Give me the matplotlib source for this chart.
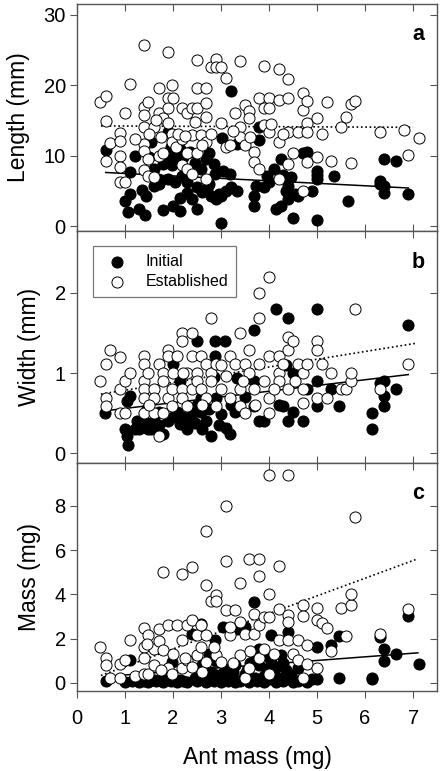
import numpy as np
import matplotlib
matplotlib.use("Agg")
import matplotlib.pyplot as plt

plt.rcParams['font.family'] = ['Liberation Sans', 'DejaVu Sans']

# ---- panel a : Length (mm) ----
len_open = np.array([
    (0.49, 17.55), (0.60, 18.4), (0.60, 14.9), (0.60, 9.2), (0.69, 11.85), (0.90, 13.2),
    (0.90, 12.0), (0.90, 10.0), (0.90, 8.35), (0.90, 6.3), (1.0, 6.3), (1.0, 16.0),
    (1.11, 20.2), (1.39, 25.75), (1.39, 16.9), (1.39, 15.8), (1.39, 14.1), (1.39, 11.7),
    (1.39, 10.7), (1.39, 7.9), (1.49, 17.55), (1.49, 9.5), (1.49, 7.15), (1.6, 6.9),
    (1.6, 14.0), (1.70, 19.6), (1.70, 16.0), (1.70, 10.0), (1.79, 15.3), (1.8, 10.3),
    (1.89, 24.75), (1.89, 18.1), (1.89, 16.8), (1.89, 14.6), (1.98, 20.0), (2.0, 18.2),
    (1.98, 13.1), (1.98, 11.9), (2.07, 11.2), (2.19, 16.7), (2.19, 12.4), (2.19, 8.6),
    (2.30, 16.0), (2.30, 8.1), (2.40, 12.9), (2.40, 7.4), (2.30, 10.3), (2.40, 16.7),
    (2.50, 19.6), (2.50, 16.8), (2.50, 23.5), (2.5, 10.3), (2.59, 12.9), (2.69, 19.6),
    (2.69, 17.5), (2.69, 15.5), (2.69, 11.9), (2.69, 6.7), (2.79, 22.5), (2.9, 23.7),
    (2.9, 22.5), (3.0, 22.5), (3.0, 14.6), (3.1, 21.0), (3.1, 11.2), (3.19, 11.45),
    (3.30, 16.0), (3.39, 23.45), (3.39, 14.1), (3.39, 12.7), (3.5, 17.2), (3.5, 11.45),
    (3.59, 16.3), (3.59, 15.3), (3.69, 10.5), (3.69, 9.05), (3.79, 8.1), (3.79, 18.2),
    (3.89, 22.7), (3.89, 14.3), (3.89, 16.7), (4.0, 18.2), (4.0, 16.7), (4.0, 13.4),
    (4.2, 22.25), (4.2, 17.9), (4.2, 11.9), (4.2, 6.7), (4.4, 20.8), (4.4, 18.2),
    (4.4, 13.4), (4.4, 8.8), (4.5, 10.3), (4.6, 13.4), (4.7, 18.9), (4.7, 16.5),
    (4.8, 17.7), (4.8, 14.6), (4.8, 13.4), (4.8, 9.05), (4.7, 5.0), (5.0, 15.3),
    (5.0, 9.8), (5.1, 13.1), (5.2, 17.6), (5.3, 9.3), (5.5, 14.1), (5.6, 15.5),
    (5.7, 8.95), (5.7, 17.3), (5.8, 17.8), (6.3, 13.4), (6.8, 13.6), (6.9, 10.1),
    (7.12, 12.5), (1.2, 12.3), (1.5, 13.0), (1.75, 12.6), (2.1, 13.0), (2.25, 12.8),
    (2.6, 11.5), (2.8, 13.0), (3.25, 13.5), (3.6, 12.6), (4.05, 14.5), (4.3, 13.0),
    (2.45, 14.8), (1.65, 15.0),
]).T

len_init = np.array([
    (0.60, 10.85), (1.0, 3.55), (1.06, 2.06), (1.11, 4.5), (1.11, 7.6), (1.2, 10.0),
    (1.3, 2.35), (1.42, 1.63), (1.44, 4.2), (1.55, 11.9), (1.6, 5.7), (1.69, 6.7),
    (1.79, 2.25), (1.89, 6.7), (1.89, 13.4), (1.89, 10.0), (1.98, 8.6), (2.0, 2.8),
    (2.09, 10.0), (2.14, 4.0), (2.14, 2.1), (2.19, 7.15), (2.30, 4.75), (2.40, 3.8),
    (2.50, 2.45), (2.50, 5.5), (2.59, 8.1), (2.69, 9.5), (2.76, 10.3), (2.79, 4.3),
    (2.87, 7.4), (2.9, 3.8), (3.0, 0.43), (3.0, 4.3), (3.1, 5.0), (3.19, 7.4),
    (3.33, 11.7), (3.33, 5.0), (3.69, 2.8), (3.69, 4.3), (3.73, 5.7), (3.79, 12.2),
    (3.79, 14.1), (3.89, 5.5), (4.0, 6.2), (4.1, 8.1), (4.15, 2.35), (4.25, 2.8),
    (4.25, 9.5), (4.4, 3.8), (4.4, 5.7), (4.4, 6.7), (4.5, 1.15), (4.6, 4.3),
    (4.7, 10.3), (4.8, 10.5), (4.9, 5.0), (5.0, 7.85), (5.0, 6.7), (5.0, 0.9),
    (5.35, 7.15), (5.65, 3.55), (6.3, 6.4), (6.4, 5.7), (6.4, 4.75), (6.4, 9.5),
    (6.65, 9.3), (6.9, 4.5), (3.2, 19.2), (3.02, 12.5), (1.6, 8.1), (1.7, 5.95),
    (1.8, 8.8), (1.95, 9.3), (2.05, 6.2), (2.2, 9.8), (2.3, 6.3), (2.45, 9.0),
    (2.6, 4.8), (2.7, 5.2), (2.85, 8.8), (2.95, 4.6), (3.05, 7.8), (1.5, 9.8),
    (1.35, 5.1), (2.35, 10.5), (2.15, 11.0), (4.3, 7.2), (4.45, 7.0), (4.35, 5.0),
    (3.95, 7.1), (4.55, 4.6), (3.2, 5.6), (2.75, 6.0), (5.0, 7.2), (6.3, 6.0),
    (1.95, 11.2),
]).T

# ---- panel b : Width (mm) ----
wid_open = np.array([
    (0.49, 0.90), (0.60, 1.11), (0.69, 1.29), (0.60, 0.69), (0.60, 0.59), (0.90, 1.20),
    (0.90, 0.80), (0.90, 0.50), (1.0, 0.90), (1.11, 1.0), (1.0, 0.5), (1.39, 1.21),
    (1.39, 1.11), (1.39, 0.90), (1.39, 0.80), (1.39, 0.69), (1.39, 0.50), (1.49, 1.0),
    (1.6, 0.80), (1.6, 0.69), (1.6, 0.50), (1.70, 1.11), (1.70, 0.21), (1.79, 1.0),
    (1.79, 0.90), (1.8, 0.5), (1.89, 1.29), (1.89, 1.21), (1.89, 0.69), (1.98, 0.80),
    (1.98, 0.59), (2.09, 1.21), (2.19, 1.50), (2.19, 1.40), (2.19, 0.80), (2.19, 0.69),
    (2.30, 1.0), (2.30, 0.59), (2.40, 1.50), (2.40, 1.21), (2.40, 0.80), (2.50, 1.0),
    (2.50, 0.90), (2.59, 1.21), (2.59, 0.80), (2.69, 1.11), (2.69, 0.69), (2.79, 1.69),
    (2.79, 1.0), (2.79, 0.90), (2.9, 1.11), (2.9, 0.59), (3.0, 0.80), (3.1, 0.96),
    (3.19, 1.21), (3.19, 0.69), (3.30, 1.11), (3.39, 1.50), (3.39, 0.80), (3.39, 0.59),
    (3.5, 1.11), (3.5, 0.50), (3.59, 1.29), (3.59, 1.0), (3.69, 0.80), (3.79, 1.11),
    (3.79, 1.69), (3.79, 2.0), (3.89, 0.90), (4.0, 2.20), (4.0, 1.21), (4.0, 0.69),
    (4.0, 0.50), (4.2, 1.21), (4.2, 1.0), (4.2, 0.90), (4.3, 1.11), (4.4, 1.45),
    (4.4, 1.29), (4.4, 0.80), (4.5, 1.40), (4.6, 1.11), (4.7, 1.0), (4.7, 0.80),
    (4.7, 0.63), (4.8, 1.11), (5.0, 1.40), (5.0, 1.29), (5.0, 0.69), (5.1, 1.11),
    (5.2, 0.69), (5.3, 1.0), (5.5, 0.80), (5.6, 0.80), (5.7, 0.90), (5.7, 1.0),
    (5.8, 1.80), (6.3, 0.80), (6.9, 1.11), (2.6, 0.6), (3.45, 0.9), (2.0, 1.0),
    (1.5, 0.6), (3.0, 1.1), (4.1, 0.8), (3.7, 0.6), (2.2, 1.0), (4.55, 0.9),
]).T

wid_init = np.array([
    (0.58, 0.50), (1.05, 0.65), (1.11, 0.71), (1.0, 0.30), (1.05, 0.21), (1.06, 0.10),
    (1.2, 0.30), (1.3, 0.30), (1.39, 0.40), (1.49, 0.30), (1.6, 0.40), (1.7, 0.51),
    (1.79, 0.24), (1.89, 0.40), (2.0, 1.11), (2.09, 0.51), (2.14, 0.90), (2.14, 0.36),
    (2.30, 0.40), (2.40, 0.49), (2.50, 1.40), (2.59, 0.69), (2.59, 0.51), (2.69, 0.40),
    (2.79, 0.21), (2.87, 1.40), (2.87, 1.21), (2.9, 0.69), (3.0, 0.49), (3.09, 1.40),
    (3.1, 0.32), (3.19, 0.24), (3.30, 0.51), (3.33, 0.94), (3.69, 1.54), (3.69, 0.90),
    (3.69, 0.59), (3.79, 0.40), (3.89, 0.40), (4.15, 1.80), (4.4, 1.69), (4.3, 0.59),
    (4.4, 0.40), (4.5, 0.51), (4.5, 1.0), (4.7, 0.40), (4.8, 0.80), (5.0, 1.80),
    (5.0, 0.90), (5.0, 0.59), (5.3, 0.80), (5.45, 0.59), (6.15, 0.50), (6.15, 0.30),
    (6.4, 0.90), (6.4, 0.71), (6.4, 0.59), (6.65, 0.80), (6.9, 1.60), (6.3, 0.88),
    (2.2, 0.45), (2.5, 0.6), (2.75, 0.55), (3.2, 0.6), (3.5, 0.7), (4.2, 0.6),
    (4.35, 1.1), (2.85, 0.95), (1.45, 0.55), (1.25, 0.4), (1.7, 0.35), (2.0, 0.45),
    (2.3, 0.3), (2.6, 0.3), (2.95, 0.35), (1.55, 0.3), (2.45, 0.38),
]).T

# ---- panel c : Mass (mg) ----
mass_open = np.array([
    (0.49, 1.62), (0.60, 1.10), (0.60, 0.80), (0.69, 0.23), (0.90, 0.87), (0.90, 0.23),
    (1.0, 1.02), (1.11, 1.92), (1.2, 0.32), (1.39, 2.48), (1.39, 1.62), (1.39, 1.10),
    (1.39, 0.42), (1.49, 2.18), (1.49, 0.42), (1.6, 1.55), (1.6, 0.80), (1.70, 2.42),
    (1.70, 1.88), (1.79, 5.0), (1.8, 1.50), (1.89, 2.60), (1.89, 0.65), (1.98, 0.42),
    (2.09, 2.60), (2.19, 4.92), (2.19, 1.92), (2.19, 0.65), (2.30, 2.60), (2.30, 1.02),
    (2.40, 5.22), (2.40, 2.82), (2.40, 0.72), (2.50, 2.15), (2.5, 1.25), (2.59, 2.60),
    (2.59, 1.62), (2.69, 6.88), (2.69, 4.40), (2.69, 2.15), (2.69, 0.95), (2.79, 3.72),
    (2.9, 3.95), (2.9, 3.69), (2.9, 1.25), (3.0, 0.95), (3.1, 8.0), (3.1, 5.52),
    (3.1, 3.27), (3.19, 2.15), (3.19, 2.52), (3.30, 3.27), (3.39, 4.5), (3.39, 2.75),
    (3.39, 1.25), (3.5, 2.22), (3.5, 0.23), (3.59, 5.6), (3.59, 0.65), (3.69, 3.12),
    (3.69, 2.22), (3.79, 5.6), (3.79, 4.82), (3.79, 2.60), (3.79, 1.10), (3.89, 2.97),
    (3.89, 1.55), (4.0, 9.4), (4.0, 4.02), (4.0, 2.97), (4.0, 0.42), (4.2, 5.3),
    (4.2, 3.32), (4.2, 1.92), (4.4, 9.4), (4.4, 3.05), (4.4, 2.75), (4.4, 1.92),
    (4.5, 1.32), (4.6, 1.92), (4.6, 1.02), (4.7, 3.5), (4.7, 3.02), (4.7, 0.23),
    (4.8, 1.70), (4.8, 0.87), (5.0, 3.39), (5.0, 2.82), (5.0, 0.65), (5.1, 2.72),
    (5.2, 2.48), (5.3, 1.43), (5.5, 3.39), (5.6, 2.10), (5.7, 3.5), (5.7, 4.02),
    (5.8, 7.5), (6.3, 2.22), (6.9, 3.32), (1.45, 1.75), (2.0, 1.3), (2.85, 1.6),
    (3.25, 0.9), (1.75, 0.6), (2.6, 0.5), (3.6, 1.45), (4.1, 1.3), (2.25, 1.1),
]).T

mass_init = np.array([
    (0.6, 0.08), (1.0, 0.05), (1.11, 1.02), (1.3, 0.05), (1.49, 0.05), (1.6, 0.12),
    (1.79, 0.05), (1.98, 0.95), (2.09, 0.05), (2.3, 0.05), (2.40, 2.22), (2.59, 2.67),
    (2.59, 0.35), (2.69, 0.05), (2.79, 1.10), (2.87, 1.92), (2.9, 0.35), (3.0, 0.05),
    (3.05, 2.52), (3.19, 0.65), (3.3, 0.05), (3.33, 2.45), (3.5, 2.52), (3.59, 0.05),
    (3.69, 3.65), (3.69, 1.25), (3.79, 1.55), (3.89, 0.05), (4.0, 1.17), (4.0, 0.65),
    (4.05, 2.15), (4.15, 0.05), (4.25, 1.25), (4.4, 2.30), (4.5, 0.05), (4.6, 0.65),
    (4.8, 0.05), (5.0, 1.62), (5.0, 0.17), (5.3, 1.73), (5.45, 2.12), (5.45, 0.23),
    (6.15, 0.23), (6.15, 0.17), (6.3, 2.07), (6.4, 1.55), (6.4, 0.99), (6.65, 1.32),
    (6.9, 3.0), (7.13, 0.83), (2.2, 0.1), (2.45, 0.2), (2.7, 0.3), (2.8, 0.5),
    (3.0, 0.3), (3.1, 0.6), (3.4, 0.1), (3.5, 0.4), (3.7, 0.2), (3.8, 0.8),
    (4.1, 0.4), (4.2, 0.2), (4.3, 0.9), (4.35, 0.6), (4.6, 0.1), (4.9, 0.15),
    (2.0, 0.2), (1.8, 0.15), (1.4, 0.1), (2.6, 0.8), (2.9, 1.0), (3.2, 0.3),
    (3.3, 0.8), (3.9, 0.3), (4.45, 0.35), (2.75, 1.3), (3.6, 0.9), (4.05, 0.95),
    (1.15, 0.08), (1.65, 0.1), (1.95, 0.08), (2.15, 0.12), (2.5, 0.08), (2.85, 0.1),
    (3.15, 0.1), (3.45, 0.15), (3.75, 0.08), (4.0, 0.15), (4.3, 0.1), (4.75, 0.12),
    (3.05, 0.45), (3.25, 0.5), (3.55, 0.6), (3.95, 0.55), (4.15, 0.7), (2.65, 0.55),
]).T

# regression fits: (intercept, slope, x start, x end)
len_fit_init = (7.81, -0.349, 0.6, 6.9)
len_fit_est = (14.22, -0.03, 0.5, 7.0)
wid_fit_init = (0.488, 0.0715, 0.5, 6.9)
wid_fit_est = (0.69, 0.0965, 0.5, 7.05)
mass_fit_init = (0.19, 0.164, 0.6, 7.1)
mass_fit_est = (-0.07, 0.80, 0.5, 7.05)

panels = [
    ("Length (mm)", "a", len_init, len_open, len_fit_init, len_fit_est, (-0.7, 31.5), [0, 10, 20, 30]),
    ("Width (mm)", "b", wid_init, wid_open, wid_fit_init, wid_fit_est, (-0.12, 2.77), [0, 1, 2]),
    ("Mass (mg)", "c", mass_init, mass_open, mass_fit_init, mass_fit_est, (-0.37, 9.94), [0, 2, 4, 6, 8]),
]

fig = plt.figure(figsize=(4.42, 7.71), dpi=100)
left, width = 0.174, 0.815
bottoms = [0.7004, 0.3995, 0.1038]
tops = [0.9948, 0.7004, 0.3995]

spine_col = "#555555"
msize = 64
axes = []
for i, (ylab, letter, ini, est, fi, fe, ylim, yt) in enumerate(panels):
    ax = fig.add_axes([left, bottoms[i], width, tops[i] - bottoms[i]])
    axes.append(ax)

    # fitted lines under the points
    xs = np.array([fi[2], fi[3]])
    ax.plot(xs, fi[0] + fi[1] * xs, color="black", lw=1.1, zorder=1)
    xs = np.array([fe[2], fe[3]])
    ax.plot(xs, fe[0] + fe[1] * xs, color="black", lw=1.2, ls=(0, (1, 1.6)), zorder=1)

    ax.scatter(ini[0], ini[1], s=msize, c="black", edgecolors="black", linewidths=0.7,
               zorder=2, label="Initial")
    ax.scatter(est[0], est[1], s=msize, c="white", edgecolors="black", linewidths=0.7,
               zorder=3, label="Established")

    ax.set_xlim(0, 7.5)
    ax.set_ylim(*ylim)
    ax.set_yticks(yt)
    ax.set_xticks(range(0, 8))
    ax.set_ylabel(ylab, fontsize=16.5, labelpad=10)
    ax.text(0.965, 0.865, letter, transform=ax.transAxes, ha="right", va="center",
            fontsize=15.5, fontweight="bold")

    for sp in ax.spines.values():
        sp.set_color(spine_col)
        sp.set_linewidth(1.0)
    ax.tick_params(axis="y", left=True, right=True, direction="out", length=5,
                   color=spine_col, labelsize=14.5, pad=3)
    ax.tick_params(axis="x", top=True, bottom=True, direction="in", length=5,
                   color=spine_col, labelsize=14.5, pad=8)
    if i < 2:
        ax.tick_params(axis="x", labelbottom=False)
    # right-hand ticks point inward
    for t in ax.yaxis.get_major_ticks():
        t.tick2line.set_marker(0)
        t.tick2line.set_markersize(5)

axes[2].tick_params(axis="x", direction="out", length=5, pad=8)
for t in axes[2].xaxis.get_major_ticks():
    t.tick2line.set_marker(3)
    t.tick2line.set_markersize(5)

axes[2].set_xlabel("Ant mass (mg)", fontsize=16.5, labelpad=13)
fig.align_ylabels(axes)

leg = axes[1].legend(loc="upper left", bbox_to_anchor=(0.044, 0.935), borderaxespad=0,
                     fontsize=11.5, frameon=True, fancybox=False, handletextpad=0.8,
                     borderpad=0.5, labelspacing=0.3)
leg.get_frame().set_edgecolor(spine_col)
leg.get_frame().set_linewidth(0.9)

fig.savefig("out.png", dpi=100)
